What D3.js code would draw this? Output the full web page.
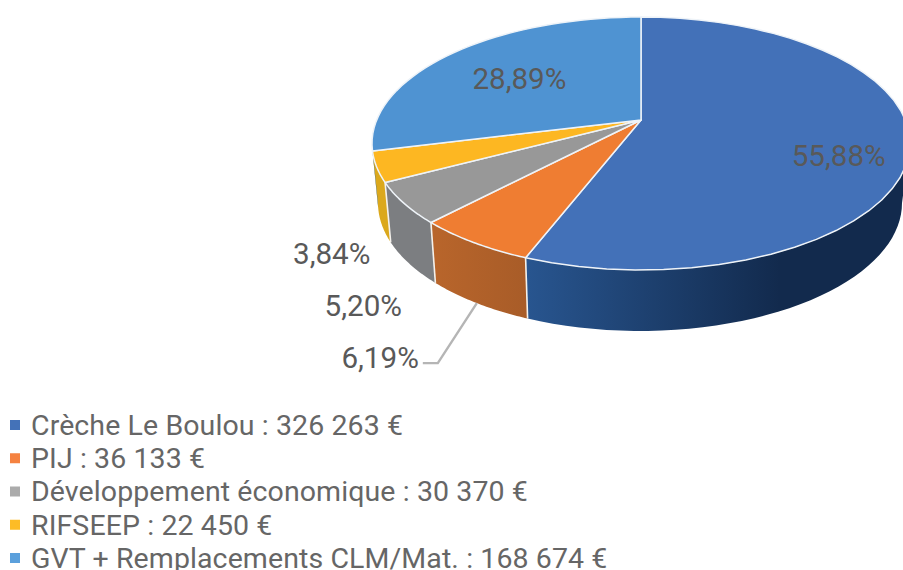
<!DOCTYPE html>
<html><head><meta charset="utf-8">
<script src="https://cdn.jsdelivr.net/npm/d3@7/dist/d3.min.js"></script>
<style>html,body{margin:0;padding:0;background:#fff;overflow:hidden}svg{display:block}text{font-family:Roboto,Lato,sans-serif}</style>
</head><body><svg id="c" width="903" height="570"></svg>
<script>
const categories = ["Crèche Le Boulou","PIJ","Développement économique","RIFSEEP","GVT + Remplacements CLM/Mat."];
const values = [326263,36133,30370,22450,168674];
const topColors = ["#4371b8","#ef7d32","#989898","#fdb722","#4f93d2"];
const legendColors = ["#4472b8","#f58240","#ababab","#fdbc26","#5ba0dc"];
const wallStart = ["#28558f","#b8652b","#7c7e81","#dba81c","#2f6aa0"];
const wallEnd = ["#122a4d","#a85c28","#7c7e81","#dba81c","#2f6aa0"];

const total = d3.sum(values);
const svg = d3.select("#c");
const pct = v => (v/total*100).toFixed(2).replace(".",",")+"%";
const money = v => d3.format(",")(v).replace(/,/g," ")+" €";

// perspective pie: a unit circle seen from above
const k = 0.1858, K = 1/Math.sqrt(1-k*k);
const topE = {cx:641, rx:269, cy:143.5, ry:126.5};
const botE = {cx:640, rx:262, cy:203, ry:128};
function norm(a, r=1){ // a: clockwise from 12 o'clock
  const u = r*Math.sin(a), v = r*Math.cos(a), d = 1+k*v;
  return {X:u/d/K, Y:(-122.1*v/d + 120 - 143.5)/126.5};
}
const proj = (a,e,r=1) => { const n = norm(a,r); return [e.cx+e.rx*n.X, e.cy+e.ry*n.Y]; };
const arcPts = (a0,a1,e) => d3.range(0,41).map(i => proj(a0+(a1-a0)*i/40,e));
const line = d3.line();

const pie = d3.pie().sort(null).value(d=>d)(values);
const rad = d3.scaleLinear().domain([0,360]).range([0,2*Math.PI]);
const wallMin = rad(100.7), wallMax = rad(259.3);

const defs = svg.append("defs");
pie.forEach((p,i)=>{
  const a0 = Math.max(p.startAngle,wallMin), a1 = Math.min(p.endAngle,wallMax);
  if(a1<=a0) return;
  const x0 = proj(a1,botE)[0], x1 = proj(a0,botE)[0];
  const g = defs.append("linearGradient").attr("id","w"+i).attr("gradientUnits","userSpaceOnUse")
    .attr("x1",x0).attr("x2",Math.min(x1, i===0?780:x1)).attr("y1",0).attr("y2",0);
  g.append("stop").attr("offset",0).attr("stop-color",wallStart[i]);
  g.append("stop").attr("offset",1).attr("stop-color",wallEnd[i]);
  const pts = arcPts(a0,a1,topE).concat(arcPts(a0,a1,botE).reverse());
  svg.append("path").attr("d",line(pts)+"Z").attr("fill",`url(#w${i})`);
});
// wall separators
pie.forEach((p,i)=>{
  const a = p.endAngle;
  if(a<wallMin||a>rad(245)) return;
  svg.append("line").attr("x1",proj(a,topE)[0]).attr("y1",proj(a,topE)[1])
    .attr("x2",proj(a,botE)[0]).attr("y2",proj(a,botE)[1])
    .attr("stroke","#f4f1ec").attr("stroke-width",1.6);
});
// top face
const apex = proj(0,topE,0);
pie.forEach((p,i)=>{
  const pts = [apex].concat(arcPts(p.startAngle,p.endAngle,topE));
  svg.append("path").attr("d",line(pts)+"Z").attr("fill",topColors[i])
    .attr("stroke","#eef3f8").attr("stroke-width",1.5).attr("stroke-linejoin","round");
});
// labels inside
const labelColor = "#595959";
const mid = p => (p.startAngle+p.endAngle)/2;
const inner = {0:[0.76,-5,18], 4:[0.62,-1,2]};
Object.keys(inner).forEach(i=>{
  const [r,dx,dy] = inner[i];
  const q = proj(mid(pie[i]),topE,r);
  svg.append("text").attr("x",q[0]+dx).attr("y",q[1]+dy).attr("dy","0.35em").attr("text-anchor","middle")
    .attr("font-size",29.6).attr("fill",labelColor).text(pct(values[i]));
});
// labels outside, hung from the bottom rim
const outer = {1:[-58,55],2:[-7,42],3:[-12,27]};
Object.keys(outer).forEach(i=>{
  const [dx,dy] = outer[i];
  const q = proj(mid(pie[i]),botE);
  svg.append("text").attr("x",q[0]+dx).attr("y",q[1]+dy).attr("dy","0.35em").attr("text-anchor","end")
    .attr("font-size",29.6).attr("fill",labelColor).text(pct(values[i]));
});
// leader line
const q = proj(mid(pie[1]),botE);
svg.append("path").attr("d",line([q,[q[0]-39,q[1]+60],[q[0]-54,q[1]+60]]))
  .attr("fill","none").attr("stroke","#b5b5b5").attr("stroke-width",2.4);
// legend
const ly = d3.scalePoint().domain(categories).range([425,558]);
const leg = svg.append("g").selectAll("g").data(categories).join("g")
  .attr("transform",d=>`translate(0,${ly(d)})`);
leg.append("rect").attr("x",10).attr("y",-5).attr("width",10).attr("height",10).attr("fill",(d,i)=>legendColors[i]);
leg.append("text").attr("x",31).attr("dy","0.35em").attr("font-size",28.5).attr("letter-spacing",0.1).attr("fill","#666")
  .text((d,i)=>d+" : "+money(values[i]));
</script></body></html>
